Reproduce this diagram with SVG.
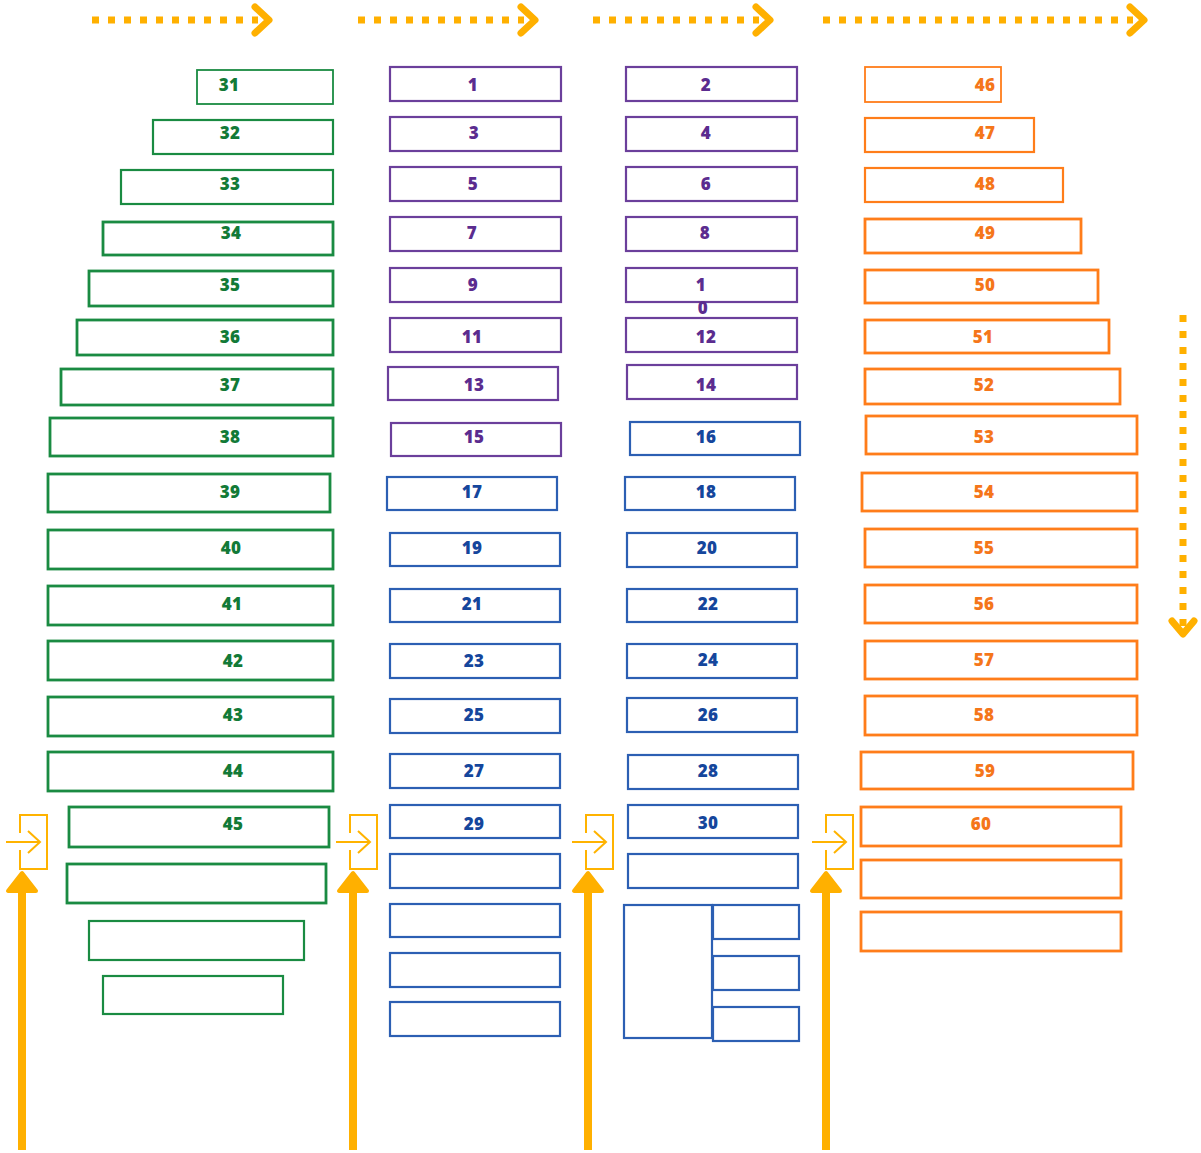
<svg xmlns="http://www.w3.org/2000/svg" width="1201" height="1153" viewBox="0 0 1201 1153">
<style>
rect{fill:#fff}
.g{stroke:#1a8b42}.p{stroke:#6b3f9b}.b{stroke:#2c5fb3}.o{stroke:#ff7d1a}
.w1{stroke-width:1.8}.w2{stroke-width:2.2}.w3{stroke-width:2.8}
text{font-family:"Open Sans","Noto Sans","Liberation Sans",sans-serif;font-weight:800;font-size:17px;letter-spacing:0.3px;text-anchor:middle}
.tg{fill:#127a37}.tp{fill:#5b2c8f}.tb{fill:#15469c}.to{fill:#f5761a}
.dot{fill:none;stroke:#ffb000;stroke-width:7;stroke-dasharray:7 9}
.chev{fill:none;stroke:#ffb000;stroke-width:7;stroke-linecap:round;stroke-linejoin:round}
.icon{fill:none;stroke:#ffb300;stroke-width:2}
.shaft{stroke:#ffb000;stroke-width:8}
.head{fill:#ffb000;stroke:#ffb000;stroke-width:4;stroke-linejoin:round}
</style>
<g id="connectors">
<line class="dot" x1="92" y1="20" x2="258" y2="20"/><polyline class="chev" points="255,7 269,20 255,33"/>
<line class="dot" x1="358" y1="20" x2="524" y2="20"/><polyline class="chev" points="521,7 535,20 521,33"/>
<line class="dot" x1="593" y1="20" x2="759" y2="20"/><polyline class="chev" points="756,7 770,20 756,33"/>
<line class="dot" x1="823" y1="20" x2="1133" y2="20"/><polyline class="chev" points="1130,7 1144,20 1130,33"/>
<line class="dot" x1="1183" y1="315" x2="1183" y2="629"/><polyline class="chev" points="1172,621 1183,634 1194,621"/>
<line class="shaft" x1="22" y1="1150" x2="22" y2="886"/><polygon class="head" points="22,873 8,891 36,891"/>
<line class="shaft" x1="353" y1="1150" x2="353" y2="886"/><polygon class="head" points="353,873 339,891 367,891"/>
<line class="shaft" x1="588" y1="1150" x2="588" y2="886"/><polygon class="head" points="588,873 574,891 602,891"/>
<line class="shaft" x1="826" y1="1150" x2="826" y2="886"/><polygon class="head" points="826,873 812,891 840,891"/>
</g>
<g id="entrance1"><path class="icon" d="M20,833V815H47V869H20V850M6,842H40M28,831L40,842L28,853"/></g>
<g id="entrance2"><path class="icon" d="M350,833V815H377V869H350V850M336,842H370M358,831L370,842L358,853"/></g>
<g id="entrance3"><path class="icon" d="M586,833V815H613V869H586V850M572,842H606M594,831L606,842L594,853"/></g>
<g id="entrance4"><path class="icon" d="M826,833V815H853V869H826V850M812,842H846M834,831L846,842L834,853"/></g>

<g id="n31"><rect class="g w1" x="197" y="70" width="136" height="34"/><text class="tg" x="229" y="91">31</text></g>
<g id="n32"><rect class="g w2" x="153" y="120" width="180" height="34"/><text class="tg" x="230" y="139">32</text></g>
<g id="n33"><rect class="g w2" x="121" y="170" width="212" height="34"/><text class="tg" x="230" y="190">33</text></g>
<g id="n34"><rect class="g w3" x="103" y="222" width="230" height="33"/><text class="tg" x="231" y="239">34</text></g>
<g id="n35"><rect class="g w3" x="89" y="271" width="244" height="35"/><text class="tg" x="230" y="291">35</text></g>
<g id="n36"><rect class="g w3" x="77" y="320" width="256" height="35"/><text class="tg" x="230" y="343">36</text></g>
<g id="n37"><rect class="g w3" x="61" y="369" width="272" height="36"/><text class="tg" x="230" y="391">37</text></g>
<g id="n38"><rect class="g w3" x="50" y="418" width="283" height="38"/><text class="tg" x="230" y="443">38</text></g>
<g id="n39"><rect class="g w3" x="48" y="474" width="282" height="38"/><text class="tg" x="230" y="498">39</text></g>
<g id="n40"><rect class="g w3" x="48" y="530" width="285" height="39"/><text class="tg" x="231" y="554">40</text></g>
<g id="n41"><rect class="g w3" x="48" y="586" width="285" height="39"/><text class="tg" x="232" y="610">41</text></g>
<g id="n42"><rect class="g w3" x="48" y="641" width="285" height="39"/><text class="tg" x="233" y="667">42</text></g>
<g id="n43"><rect class="g w3" x="48" y="697" width="285" height="39"/><text class="tg" x="233" y="721">43</text></g>
<g id="n44"><rect class="g w3" x="48" y="752" width="285" height="39"/><text class="tg" x="233" y="777">44</text></g>
<g id="n45"><rect class="g w3" x="69" y="807" width="260" height="40"/><text class="tg" x="233" y="830">45</text></g>
<g id="g_blank1"><rect class="g w3" x="67" y="864" width="259" height="39"/></g>
<g id="g_blank2"><rect class="g w2" x="89" y="921" width="215" height="39"/></g>
<g id="g_blank3"><rect class="g w2" x="103" y="976" width="180" height="38"/></g>

<g id="n1"><rect class="p w2" x="390" y="67" width="171" height="34"/><text class="tp" x="473" y="91">1</text></g>
<g id="n3"><rect class="p w2" x="390" y="117" width="171" height="34"/><text class="tp" x="474" y="139">3</text></g>
<g id="n5"><rect class="p w2" x="390" y="167" width="171" height="34"/><text class="tp" x="473" y="190">5</text></g>
<g id="n7"><rect class="p w2" x="390" y="217" width="171" height="34"/><text class="tp" x="472" y="239">7</text></g>
<g id="n9"><rect class="p w2" x="390" y="268" width="171" height="34"/><text class="tp" x="473" y="291">9</text></g>
<g id="n11"><rect class="p w2" x="390" y="318" width="171" height="34"/><text class="tp" x="472" y="343">11</text></g>
<g id="n13"><rect class="p w2" x="388" y="367" width="170" height="33"/><text class="tp" x="474" y="391">13</text></g>
<g id="n15"><rect class="p w2" x="391" y="423" width="170" height="33"/><text class="tp" x="474" y="443">15</text></g>
<g id="n17"><rect class="b w2" x="387" y="477" width="170" height="33"/><text class="tb" x="472" y="498">17</text></g>
<g id="n19"><rect class="b w2" x="390" y="533" width="170" height="33"/><text class="tb" x="472" y="554">19</text></g>
<g id="n21"><rect class="b w2" x="390" y="589" width="170" height="33"/><text class="tb" x="472" y="610">21</text></g>
<g id="n23"><rect class="b w2" x="390" y="644" width="170" height="34"/><text class="tb" x="474" y="667">23</text></g>
<g id="n25"><rect class="b w2" x="390" y="699" width="170" height="34"/><text class="tb" x="474" y="721">25</text></g>
<g id="n27"><rect class="b w2" x="390" y="754" width="170" height="34"/><text class="tb" x="474" y="777">27</text></g>
<g id="n29"><rect class="b w2" x="390" y="805" width="170" height="33"/><text class="tb" x="474" y="830">29</text></g>
<g id="b_blank1"><rect class="b w2" x="390" y="854" width="170" height="34"/></g>
<g id="b_blank2"><rect class="b w2" x="390" y="904" width="170" height="33"/></g>
<g id="b_blank3"><rect class="b w2" x="390" y="953" width="170" height="34"/></g>
<g id="b_blank4"><rect class="b w2" x="390" y="1002" width="170" height="34"/></g>

<g id="n2"><rect class="p w2" x="626" y="67" width="171" height="34"/><text class="tp" x="706" y="91">2</text></g>
<g id="n4"><rect class="p w2" x="626" y="117" width="171" height="34"/><text class="tp" x="706" y="139">4</text></g>
<g id="n6"><rect class="p w2" x="626" y="167" width="171" height="34"/><text class="tp" x="706" y="190">6</text></g>
<g id="n8"><rect class="p w2" x="626" y="217" width="171" height="34"/><text class="tp" x="705" y="239">8</text></g>
<g id="n10"><rect class="p w2" x="626" y="268" width="171" height="34"/><text class="tp" x="701" y="291">1</text><text class="tp" x="703" y="314">0</text></g>
<g id="n12"><rect class="p w2" x="626" y="318" width="171" height="34"/><text class="tp" x="706" y="343">12</text></g>
<g id="n14"><rect class="p w2" x="627" y="365" width="170" height="34"/><text class="tp" x="706" y="391">14</text></g>
<g id="n16"><rect class="b w2" x="630" y="422" width="170" height="33"/><text class="tb" x="706" y="443">16</text></g>
<g id="n18"><rect class="b w2" x="625" y="477" width="170" height="33"/><text class="tb" x="706" y="498">18</text></g>
<g id="n20"><rect class="b w2" x="627" y="533" width="170" height="34"/><text class="tb" x="707" y="554">20</text></g>
<g id="n22"><rect class="b w2" x="627" y="589" width="170" height="33"/><text class="tb" x="708" y="610">22</text></g>
<g id="n24"><rect class="b w2" x="627" y="644" width="170" height="34"/><text class="tb" x="708" y="666">24</text></g>
<g id="n26"><rect class="b w2" x="627" y="698" width="170" height="34"/><text class="tb" x="708" y="721">26</text></g>
<g id="n28"><rect class="b w2" x="628" y="755" width="170" height="34"/><text class="tb" x="708" y="777">28</text></g>
<g id="n30"><rect class="b w2" x="628" y="805" width="170" height="33"/><text class="tb" x="708" y="829">30</text></g>
<g id="c3_blank1"><rect class="b w2" x="628" y="854" width="170" height="34"/></g>
<g id="c3_grid">
<rect class="b w2" x="624" y="905" width="88" height="133"/>
<rect class="b w2" x="713" y="905" width="86" height="34"/>
<rect class="b w2" x="713" y="956" width="86" height="34"/>
<rect class="b w2" x="713" y="1007" width="86" height="34"/>
</g>

<g id="n46"><rect class="o w1" x="865" y="67" width="136" height="35"/><text class="to" x="985" y="91">46</text></g>
<g id="n47"><rect class="o w2" x="865" y="118" width="169" height="34"/><text class="to" x="985" y="139">47</text></g>
<g id="n48"><rect class="o w2" x="865" y="168" width="198" height="34"/><text class="to" x="985" y="190">48</text></g>
<g id="n49"><rect class="o w3" x="865" y="219" width="216" height="34"/><text class="to" x="985" y="239">49</text></g>
<g id="n50"><rect class="o w3" x="865" y="270" width="233" height="33"/><text class="to" x="985" y="291">50</text></g>
<g id="n51"><rect class="o w3" x="865" y="320" width="244" height="33"/><text class="to" x="983" y="343">51</text></g>
<g id="n52"><rect class="o w3" x="865" y="369" width="255" height="35"/><text class="to" x="984" y="391">52</text></g>
<g id="n53"><rect class="o w3" x="866" y="416" width="271" height="38"/><text class="to" x="984" y="443">53</text></g>
<g id="n54"><rect class="o w3" x="862" y="473" width="275" height="38"/><text class="to" x="984" y="498">54</text></g>
<g id="n55"><rect class="o w3" x="865" y="529" width="272" height="38"/><text class="to" x="984" y="554">55</text></g>
<g id="n56"><rect class="o w3" x="865" y="585" width="272" height="38"/><text class="to" x="984" y="610">56</text></g>
<g id="n57"><rect class="o w3" x="865" y="641" width="272" height="38"/><text class="to" x="984" y="666">57</text></g>
<g id="n58"><rect class="o w3" x="865" y="696" width="272" height="39"/><text class="to" x="984" y="721">58</text></g>
<g id="n59"><rect class="o w3" x="861" y="752" width="272" height="37"/><text class="to" x="985" y="777">59</text></g>
<g id="n60"><rect class="o w3" x="861" y="807" width="260" height="39"/><text class="to" x="981" y="830">60</text></g>
<g id="o_blank1"><rect class="o w3" x="861" y="860" width="260" height="38"/></g>
<g id="o_blank2"><rect class="o w3" x="861" y="912" width="260" height="39"/></g>
</svg>
